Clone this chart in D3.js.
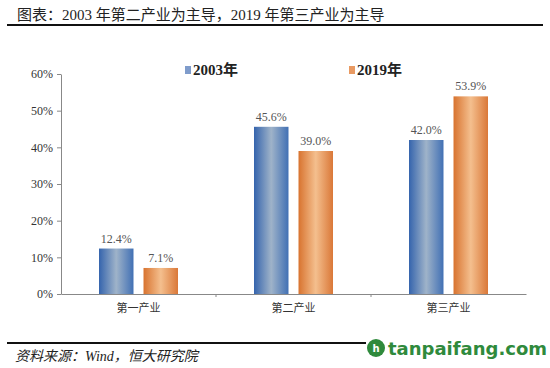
<!DOCTYPE html>
<html><head><meta charset="utf-8">
<script src="https://cdn.jsdelivr.net/npm/d3@7"></script>
<style>body{margin:0;background:#fff}svg{display:block}</style>
</head><body>
<script>
const categories = ["第一产业","第二产业","第三产业"];
const seriesNames = ["2003年","2019年"];
const values2003 = [12.4, 45.6, 42.0];
const values2019 = [7.1, 39.0, 53.9];
const yTicks = [0,10,20,30,40,50,60];
const titleText = "图表：2003 年第二产业为主导，2019 年第三产业为主导";
const sourceText = "资料来源：Wind，恒大研究院";

const W=550,H=368;
const svg=d3.select("body").append("svg").attr("width",W).attr("height",H);
const defs=svg.append("defs");
function grad(id,edgeL,mid,edgeR){
  const g=defs.append("linearGradient").attr("id",id).attr("x1","0%").attr("x2","100%");
  g.append("stop").attr("offset","0%").attr("stop-color",edgeL);
  g.append("stop").attr("offset","50%").attr("stop-color",mid);
  g.append("stop").attr("offset","100%").attr("stop-color",edgeR);
}
grad("gBlue","#3564ad","#9fb3c9","#4170b4");
grad("gOrange","#d8732f","#f4bf8e","#da7838");
const fills=["url(#gBlue)","url(#gOrange)"];
const legendFills=["#7f9ccb","#e99a62"];
const serif="'Liberation Serif','Noto Sans CJK SC',serif";

// title
svg.append("text").attr("x",17).attr("y",20).attr("font-family",serif).attr("font-size",15).attr("fill","#222").text(titleText);
svg.append("line").attr("x1",7).attr("x2",543).attr("y1",25).attr("y2",25).attr("stroke","#111").attr("stroke-width",2.2);

const x=d3.scaleBand().domain(categories).range([61,526]);
const y=d3.scaleLinear().domain([0,60]).range([294,74]);

// y axis
const yAxis=d3.axisLeft(y).tickValues(yTicks).tickFormat(d=>d+"%").tickSize(4).tickSizeOuter(0);
const ya=svg.append("g").attr("transform","translate(61,0)").call(yAxis);
ya.select(".domain").attr("stroke","#888");
ya.selectAll(".tick line").attr("stroke","#888");
ya.selectAll(".tick text").attr("font-family",serif).attr("font-size",12).attr("fill","#333").attr("x",-8);

// x axis
const xa=svg.append("g").attr("transform","translate(0,294)").call(d3.axisBottom(x).tickSize(0).tickSizeOuter(0));
xa.select(".domain").attr("stroke","#888");
xa.selectAll(".tick text").attr("font-family",serif).attr("font-size",11).attr("fill","#333").attr("dy","1.35em");
xa.selectAll(".sep").data(categories.slice(1)).enter().append("line")
  .attr("x1",d=>x(d)).attr("x2",d=>x(d)).attr("y1",0).attr("y2",3).attr("stroke","#888");

const data=categories.map((c,i)=>({c,vals:[values2003[i],values2019[i]]}));
const inner=d3.scaleBand().domain([0,1]).range([0,x.bandwidth()]).paddingInner(0.225).paddingOuter(0.854);
const g=svg.append("g");
data.forEach(d=>{
  d.vals.forEach((v,j)=>{
    const bx=x(d.c)+inner(j);
    g.append("rect").attr("x",bx).attr("y",y(v)).attr("width",inner.bandwidth()).attr("height",y(0)-y(v)).attr("fill",fills[j]);
    g.append("text").attr("x",bx+inner.bandwidth()/2).attr("y",y(v)-6).attr("text-anchor","middle")
      .attr("font-family",serif).attr("font-size",12).attr("fill","#555").text(v.toFixed(1)+"%");
  });
});

// legend
const legX=[185,349];
seriesNames.forEach((n,i)=>{
  svg.append("rect").attr("x",legX[i]).attr("y",66).attr("width",6).attr("height",8).attr("fill",legendFills[i]);
  svg.append("text").attr("x",legX[i]+8).attr("y",75).attr("font-family",serif).attr("font-size",15).attr("font-weight","bold").attr("fill","#222").text(n);
});

// bottom
svg.append("line").attr("x1",7).attr("x2",543).attr("y1",343).attr("y2",343).attr("stroke","#111").attr("stroke-width",2.2);
svg.append("text").attr("x",15).attr("y",361).attr("font-family",serif).attr("font-style","italic").attr("font-size",14).attr("fill","#222").text(sourceText);

// watermark
const wm=svg.append("g");
wm.append("rect").attr("x",366).attr("y",333).attr("width",180).attr("height",30).attr("fill","#fff");
wm.append("circle").attr("cx",376).attr("cy",348).attr("r",9).attr("fill","#2f8a3c");
wm.append("text").attr("x",376).attr("y",352).attr("text-anchor","middle").attr("font-family","DejaVu Sans").attr("font-size",10).attr("font-weight","bold").attr("fill","#fff").text("h");
wm.append("text").attr("x",388).attr("y",355).attr("font-family","'DejaVu Sans',sans-serif").attr("font-size",18).attr("font-weight","bold").attr("fill","#2f8a3c").text("tanpaifang.com");
</script>
</body></html>
